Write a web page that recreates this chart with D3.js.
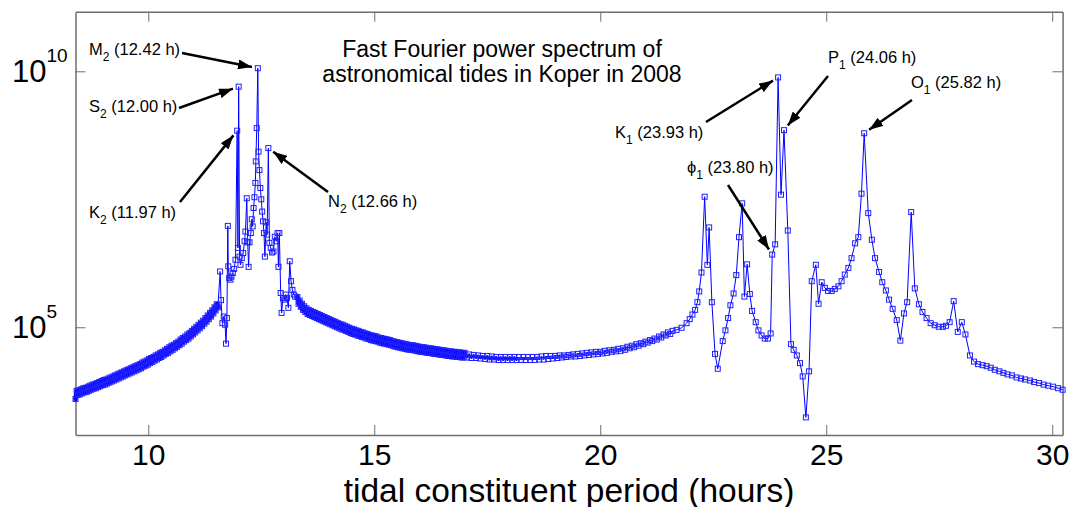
<!DOCTYPE html>
<html>
	<head>
		<meta charset="utf-8">
		<title>Fast Fourier power spectrum - Koper 2008</title>

		<!--libs-->
		<script src="https://d3js.org/d3.v7.min.js"></script>

		<!--css-->
		<style>
			body {
				margin: 0;
				background: #fff;
			}
			svg {
				display: block;
				font-family: "Liberation Sans", Arial, Helvetica, sans-serif;
			}
			.axis path,
			.axis line {
				stroke: #6e6e6e;
			}
			.axis path {
				stroke-width: 1.5;
			}
			.axis text {
				font-size: 30px;
				fill: #000;
			}
			.trace {
				fill: none;
				stroke: #0000ff;
				stroke-width: 1;
			}
			.trace.dense {
				stroke-width: 4.5;
				stroke-linejoin: round;
				stroke-linecap: round;
			}
			.trace.semi-dense {
				stroke-width: 2;
				stroke-linejoin: round;
				stroke-linecap: round;
			}
			.marker {
				fill: none;
				stroke: #1f1fff;
				stroke-width: 1;
			}
			.note {
				font-size: 16.5px;
			}
			.arrow {
				stroke: #000;
				stroke-width: 2.5;
			}
		</style>
	</head>
	<body>
		<div class="spectrum"></div>

		<script>
			// periods in hours, power as log10 of the FFT power

			// long sidelobe before the semidiurnal group
			var lowBandPeriod = [
				8.390, 8.415, 8.440, 8.465, 8.490, 8.515, 8.540, 8.565, 8.590, 8.615,
				8.640, 8.665, 8.690, 8.715, 8.740, 8.765, 8.790, 8.815, 8.840, 8.865,
				8.890, 8.915, 8.940, 8.965, 8.990, 9.015, 9.040, 9.065, 9.090, 9.115,
				9.140, 9.165, 9.190, 9.215, 9.240, 9.265, 9.290, 9.315, 9.340, 9.365,
				9.390, 9.415, 9.440, 9.465, 9.490, 9.515, 9.540, 9.565, 9.590, 9.615,
				9.640, 9.665, 9.690, 9.715, 9.740, 9.765, 9.790, 9.815, 9.840, 9.865,
				9.890, 9.915, 9.940, 9.965, 9.990, 10.015, 10.040, 10.065, 10.090, 10.115,
				10.140, 10.165, 10.190, 10.215, 10.240, 10.265, 10.290, 10.315, 10.340, 10.365,
				10.390, 10.415, 10.440, 10.465, 10.490, 10.515, 10.540, 10.565, 10.590, 10.615,
				10.640, 10.665, 10.690, 10.715, 10.740, 10.765, 10.790, 10.815, 10.840, 10.865,
				10.890, 10.915, 10.940, 10.965, 10.990, 11.015, 11.040, 11.065, 11.090, 11.115,
				11.140, 11.165, 11.190, 11.215, 11.240, 11.265, 11.290, 11.315, 11.340, 11.365,
				11.390, 11.415, 11.440, 11.465, 11.490, 11.515, 11.540
			];
			var lowBandLog = [
				3.60, 3.76, 3.68, 3.77, 3.69, 3.79, 3.71, 3.81, 3.73, 3.82,
				3.74, 3.84, 3.76, 3.86, 3.78, 3.88, 3.80, 3.89, 3.81, 3.91,
				3.83, 3.93, 3.85, 3.95, 3.87, 3.97, 3.88, 3.98, 3.90, 4.00,
				3.92, 4.02, 3.94, 4.04, 3.96, 4.06, 3.98, 4.08, 4.00, 4.10,
				4.02, 4.12, 4.04, 4.14, 4.06, 4.16, 4.08, 4.18, 4.10, 4.20,
				4.12, 4.22, 4.14, 4.24, 4.16, 4.26, 4.18, 4.28, 4.20, 4.31,
				4.23, 4.33, 4.25, 4.35, 4.27, 4.38, 4.30, 4.40, 4.32, 4.42,
				4.35, 4.45, 4.37, 4.47, 4.40, 4.50, 4.42, 4.52, 4.45, 4.55,
				4.48, 4.58, 4.50, 4.61, 4.53, 4.64, 4.56, 4.66, 4.59, 4.69,
				4.62, 4.72, 4.65, 4.76, 4.68, 4.79, 4.72, 4.82, 4.75, 4.86,
				4.78, 4.89, 4.82, 4.93, 4.86, 4.97, 4.90, 5.01, 4.94, 5.05,
				4.98, 5.09, 5.02, 5.13, 5.07, 5.18, 5.11, 5.23, 5.16, 5.28,
				5.21, 5.33, 5.27, 5.39, 5.33, 5.45, 5.39
			];

			// semidiurnal group (K2, S2, M2, N2)
			var semiPeriod = [
				11.59, 11.61, 11.64, 11.67, 11.70, 11.72, 11.74, 11.76, 11.77, 11.79,
				11.82, 11.84, 11.87, 11.90, 11.93, 11.967, 11.984, 12.00, 12.02, 12.04,
				12.07, 12.10, 12.13, 12.15, 12.18, 12.20, 12.22, 12.24, 12.27, 12.29,
				12.31, 12.33, 12.35, 12.37, 12.38, 12.40, 12.424, 12.44, 12.46, 12.48,
				12.50, 12.52, 12.54, 12.56, 12.58, 12.61, 12.63, 12.657, 12.68, 12.71,
				12.74, 12.77, 12.80, 12.83, 12.86, 12.88, 12.90, 12.93, 12.95, 12.98,
				13.01, 13.04, 13.07, 13.10, 13.13, 13.16, 13.19, 13.22, 13.25
			];
			var semiLog = [
				6.09, 5.53, 5.08, 5.21, 5.05, 4.68, 5.18, 6.98, 6.19, 5.96,
				5.93, 5.99, 6.06, 6.14, 6.32, 8.84, 6.55, 9.70, 6.38, 6.22,
				6.35, 6.45, 6.68, 6.87, 7.52, 6.66, 6.18, 6.66, 6.84, 7.11,
				6.97, 7.33, 7.54, 7.82, 8.24, 8.89, 10.06, 8.43, 8.07, 7.72,
				7.50, 7.26, 7.07, 6.84, 6.38, 7.05, 6.81, 8.50, 6.65, 6.55,
				6.46, 6.48, 6.77, 6.68, 6.84, 6.18, 6.84, 5.67, 5.28, 5.57,
				5.54, 5.64, 5.57, 5.38, 6.29, 5.90, 5.73, 5.64, 5.60
			];

			// dense trough after the semidiurnal group
			var troughPeriod = [
				13.300, 13.325, 13.350, 13.375, 13.400, 13.425, 13.450, 13.475, 13.500, 13.525,
				13.550, 13.575, 13.600, 13.625, 13.650, 13.675, 13.700, 13.725, 13.750, 13.775,
				13.800, 13.825, 13.850, 13.875, 13.900, 13.925, 13.950, 13.975, 14.000, 14.025,
				14.050, 14.075, 14.100, 14.125, 14.150, 14.175, 14.200, 14.225, 14.250, 14.275,
				14.300, 14.325, 14.350, 14.375, 14.400, 14.425, 14.450, 14.475, 14.500, 14.525,
				14.550, 14.575, 14.600, 14.625, 14.650, 14.675, 14.700, 14.725, 14.750, 14.775,
				14.800, 14.825, 14.850, 14.875, 14.900, 14.925, 14.950, 14.975, 15.000, 15.025,
				15.050, 15.075, 15.100, 15.125, 15.150, 15.175, 15.200, 15.225, 15.250, 15.275,
				15.300, 15.325, 15.350, 15.375, 15.400, 15.425, 15.450, 15.475, 15.500, 15.525,
				15.550, 15.575, 15.600, 15.625, 15.650, 15.675, 15.700, 15.725, 15.750, 15.775,
				15.800, 15.825, 15.850, 15.875, 15.900, 15.925, 15.950, 15.975, 16.000, 16.025,
				16.050, 16.075, 16.100, 16.125, 16.150, 16.175, 16.200, 16.225, 16.250, 16.275,
				16.300, 16.325, 16.350, 16.375, 16.400, 16.425, 16.450, 16.475, 16.500, 16.525,
				16.550, 16.575, 16.600, 16.625, 16.650, 16.675, 16.700, 16.725, 16.750, 16.775,
				16.800, 16.825, 16.850, 16.875, 16.900, 16.925, 16.950, 16.975, 17.000
			];
			var troughLog = [
				5.59, 5.46, 5.52, 5.40, 5.46, 5.34, 5.41, 5.30, 5.37, 5.26,
				5.34, 5.24, 5.32, 5.22, 5.30, 5.20, 5.28, 5.18, 5.26, 5.16,
				5.24, 5.14, 5.22, 5.12, 5.20, 5.10, 5.18, 5.08, 5.16, 5.06,
				5.14, 5.04, 5.12, 5.02, 5.10, 5.00, 5.08, 4.98, 5.06, 4.96,
				5.05, 4.95, 5.03, 4.93, 5.01, 4.91, 4.99, 4.89, 4.97, 4.87,
				4.96, 4.86, 4.94, 4.84, 4.93, 4.83, 4.91, 4.81, 4.90, 4.80,
				4.88, 4.78, 4.87, 4.77, 4.85, 4.75, 4.84, 4.74, 4.83, 4.73,
				4.82, 4.72, 4.80, 4.70, 4.79, 4.69, 4.78, 4.68, 4.77, 4.67,
				4.76, 4.66, 4.75, 4.65, 4.73, 4.63, 4.72, 4.62, 4.71, 4.61,
				4.70, 4.60, 4.69, 4.59, 4.68, 4.58, 4.67, 4.57, 4.66, 4.56,
				4.65, 4.56, 4.65, 4.55, 4.64, 4.54, 4.63, 4.53, 4.62, 4.52,
				4.61, 4.52, 4.61, 4.51, 4.60, 4.50, 4.59, 4.50, 4.59, 4.49,
				4.58, 4.48, 4.57, 4.48, 4.57, 4.47, 4.56, 4.46, 4.55, 4.46,
				4.55, 4.45, 4.54, 4.44, 4.53, 4.44, 4.53, 4.43, 4.52, 4.43,
				4.52, 4.42, 4.51, 4.42, 4.51, 4.41, 4.50, 4.41, 4.50
			];

			// flat bottom rising towards the diurnal group
			var flatPeriod = [
				17.05, 17.10, 17.15, 17.20, 17.25,
				17.30, 17.35, 17.40, 17.45, 17.50, 17.55, 17.60, 17.65, 17.70, 17.75,
				17.80, 17.85, 17.90, 17.95, 18.00, 18.05, 18.10, 18.15, 18.20, 18.25,
				18.30, 18.35, 18.40, 18.45, 18.50, 18.55, 18.60, 18.65, 18.70, 18.75,
				18.80, 18.85, 18.90, 18.95, 19.00, 19.05, 19.10, 19.15, 19.20, 19.25,
				19.30, 19.35, 19.40, 19.45, 19.50, 19.55, 19.60, 19.65, 19.70, 19.75,
				19.80, 19.85, 19.90, 19.95, 20.00, 20.05, 20.10, 20.15, 20.20, 20.25,
				20.30, 20.35, 20.40, 20.45, 20.50, 20.55, 20.60, 20.65, 20.70, 20.75,
				20.80, 20.85, 20.90, 20.95, 21.00, 21.05, 21.10, 21.15, 21.20, 21.25,
				21.30, 21.35, 21.40, 21.45, 21.50, 21.55, 21.60
			];
			var flatLog = [
				4.41, 4.47, 4.40, 4.46, 4.40,
				4.45, 4.39, 4.44, 4.38, 4.44, 4.37, 4.43, 4.37, 4.42, 4.36,
				4.42, 4.36, 4.42, 4.36, 4.42, 4.36, 4.42, 4.36, 4.42, 4.36,
				4.42, 4.36, 4.42, 4.36, 4.42, 4.36, 4.42, 4.37, 4.43, 4.37,
				4.44, 4.38, 4.44, 4.39, 4.44, 4.40, 4.45, 4.41, 4.45, 4.42,
				4.46, 4.43, 4.47, 4.43, 4.48, 4.44, 4.49, 4.45, 4.50, 4.46,
				4.51, 4.47, 4.52, 4.48, 4.52, 4.49, 4.54, 4.50, 4.55, 4.52,
				4.56, 4.53, 4.58, 4.54, 4.59, 4.56, 4.62, 4.59, 4.64, 4.61,
				4.67, 4.64, 4.69, 4.67, 4.72, 4.70, 4.75, 4.73, 4.78, 4.76,
				4.82, 4.80, 4.86, 4.84, 4.90, 4.87, 4.93
			];

			// diurnal group (phi1, K1, P1, O1) and the tail
			var diurnalPeriod = [
				21.69, 21.80, 21.91, 21.98, 22.04, 22.10, 22.15, 22.19, 22.24, 22.31,
				22.37, 22.41, 22.47, 22.54, 22.60, 22.71, 22.77, 22.83, 22.88, 22.95,
				23.01, 23.07, 23.14, 23.19, 23.25, 23.31, 23.36, 23.44, 23.50, 23.57,
				23.64, 23.71, 23.77, 23.805, 23.87, 23.935, 24.00, 24.066, 24.15, 24.22,
				24.28, 24.35, 24.42, 24.48, 24.55, 24.62, 24.68, 24.77, 24.83, 24.90,
				24.97, 25.04, 25.12, 25.19, 25.27, 25.34, 25.41, 25.49, 25.56, 25.64,
				25.71, 25.78, 25.84, 25.93, 26.01, 26.08, 26.17, 26.24, 26.32, 26.39,
				26.47, 26.56, 26.64, 26.72, 26.79, 26.88, 26.96, 27.05, 27.13, 27.22,
				27.31, 27.40, 27.49, 27.58, 27.65, 27.73, 27.82, 27.91, 28.00, 28.08,
				28.18, 28.27, 28.36, 28.46, 28.55, 28.64, 28.73, 28.83, 28.92, 29.01,
				29.11, 29.21, 29.31, 29.40, 29.51, 29.60, 29.71, 29.81, 29.91, 30.02,
				30.13, 30.23
			];
			var diurnalLog = [
				4.95, 4.99, 5.08, 5.16, 5.25, 5.34, 5.49, 5.70, 6.07, 7.55,
				6.22, 6.95, 5.49, 4.48, 4.19, 4.73, 4.94, 5.18, 5.43, 5.66,
				6.02, 6.76, 7.42, 5.60, 6.23, 5.65, 5.32, 5.10, 4.94, 4.84,
				4.78, 4.78, 4.88, 6.42, 6.62, 9.88, 7.59, 8.85, 6.89, 4.67,
				4.56, 4.45, 4.30, 4.04, 3.24, 4.14, 5.90, 6.22, 5.46, 5.88,
				5.77, 5.71, 5.71, 5.75, 5.80, 5.90, 6.03, 6.16, 6.35, 6.64,
				6.76, 7.61, 8.79, 7.23, 6.71, 6.35, 6.08, 5.88, 5.72, 5.54,
				5.36, 5.14, 4.74, 5.27, 5.49, 7.25, 5.76, 5.45, 5.30, 5.18,
				5.08, 5.04, 5.01, 5.01, 5.03, 5.10, 5.51, 4.91, 5.10, 4.86,
				4.45, 4.33, 4.28, 4.26, 4.24, 4.21, 4.17, 4.14, 4.11, 4.08,
				4.06, 4.02, 4.00, 3.98, 3.96, 3.93, 3.91, 3.88, 3.86, 3.84,
				3.81, 3.78
			];

			var xTicks = [10, 15, 20, 25, 30];
			var yTicks = [1e5, 1e10];
			var titleLines = ["Fast Fourier power spectrum of", "astronomical tides in Koper in 2008"];
			var xLabel = "tidal constituent period (hours)";

			// constituent labels: name, subscript, text, period of the marked peak
			var peakNames = ["M", "S", "K", "N", "K", "P", "O", "\u03d5"];
			var peakSubs = ["2", "2", "2", "2", "1", "1", "1", "1"];
			var peakTexts = [" (12.42 h)", " (12.00 h)", " (11.97 h)", " (12.66 h)", " (23.93 h)", " (24.06 h)", " (25.82 h)", " (23.80 h)"];
			var peakPeriods = [12.424, 12.00, 11.967, 12.657, 23.935, 24.066, 25.84, 23.805];

			var width = 1074,
				height = 507;
			var plot = {left: 75.5, right: 1062.6, top: 11.7, bottom: 435};

			var svg = d3.select(".spectrum")
				.append("svg")
				.attr("width", width)
				.attr("height", height);

			var x = d3.scaleLinear()
				.domain([8.39, 30.23])
				.range([plot.left, plot.right]);

			var y = d3.scaleLog()
				.domain([Math.pow(10, 2.896), Math.pow(10, 11.164)])
				.range([plot.bottom, plot.top]);

			function toPoints(periods, logs) {
				return periods.map(function(p, i) {
					return {period: p, power: Math.pow(10, logs[i])};
				});
			}

			var lowBand = toPoints(lowBandPeriod, lowBandLog),
				trough = toPoints(troughPeriod, troughLog),
				flat = toPoints(flatPeriod, flatLog);

			var data = [].concat(
				lowBand,
				toPoints(semiPeriod, semiLog),
				trough,
				flat,
				toPoints(diurnalPeriod, diurnalLog)
			);

			//axes, box with inward ticks
			svg.append("g")
				.attr("class", "axis")
				.attr("transform", "translate(0," + plot.bottom + ")")
				.call(d3.axisBottom(x).tickValues(xTicks).tickSize(-10).tickSizeOuter(0))
				.selectAll("text")
				.attr("y", 29.5)
				.attr("dy", 0);

			svg.append("g")
				.attr("class", "axis")
				.attr("transform", "translate(0," + plot.top + ")")
				.call(d3.axisTop(x).tickValues(xTicks).tickSize(-10).tickSizeOuter(0).tickFormat(""));

			svg.append("g")
				.attr("class", "axis")
				.attr("transform", "translate(" + plot.left + ",0)")
				.call(d3.axisLeft(y).tickValues(yTicks).tickSize(-10).tickSizeOuter(0).tickFormat(""));

			svg.append("g")
				.attr("class", "axis")
				.attr("transform", "translate(" + plot.right + ",0)")
				.call(d3.axisRight(y).tickValues(yTicks).tickSize(-10).tickSizeOuter(0).tickFormat(""));

			// y tick labels as 10 with a superscript exponent
			var yLab = svg.selectAll(".ylab")
				.data(yTicks)
				.enter()
				.append("text")
				.attr("class", "ylab")
				.attr("x", 12)
				.attr("y", function(d) { return y(d) + 11; });
			yLab.append("tspan")
				.attr("font-size", 31)
				.text("10");
			yLab.append("tspan")
				.attr("font-size", 19)
				.attr("dy", -20)
				.text(function(d) { return Math.round(Math.log10(d)); });

			svg.append("text")
				.attr("x", (plot.left + plot.right) / 2)
				.attr("y", 501.5)
				.attr("text-anchor", "middle")
				.attr("font-size", 33.5)
				.text(xLabel);

			svg.selectAll(".title")
				.data(titleLines)
				.enter()
				.append("text")
				.attr("class", "title")
				.attr("x", 502)
				.attr("y", function(d, i) { return 57 + i * 25; })
				.attr("text-anchor", "middle")
				.attr("font-size", 23)
				.text(function(d) { return d; });

			//spectrum
			var line = d3.line()
				.x(function(d) { return x(d.period); })
				.y(function(d) { return y(d.power); });

			svg.append("path")
				.attr("class", "trace")
				.attr("d", line(data));

			// where the bins crowd together the trace reads as a solid ribbon
			[lowBand, trough].forEach(function(seg) {
				svg.append("path")
					.attr("class", "trace dense")
					.attr("d", line(seg));
			});
			svg.append("path")
				.attr("class", "trace semi-dense")
				.attr("d", line([trough[trough.length - 1]].concat(flat.filter(function(d) { return d.period < 18.2; }))));

			svg.append("g")
				.selectAll("rect")
				.data(data)
				.enter()
				.append("rect")
				.attr("class", "marker")
				.attr("x", function(d) { return x(d.period) - 2.5; })
				.attr("y", function(d) { return y(d.power) - 2.5; })
				.attr("width", 5)
				.attr("height", 5);

			//annotations
			svg.append("defs")
				.append("marker")
				.attr("id", "head")
				.attr("markerUnits", "userSpaceOnUse")
				.attr("viewBox", "0 0 14 10")
				.attr("refX", 14)
				.attr("refY", 5)
				.attr("markerWidth", 14)
				.attr("markerHeight", 10)
				.attr("orient", "auto")
				.append("path")
				.attr("d", "M0,0L14,5L0,10Z")
				.attr("fill", "#000");

			// label anchor (text start, baseline) and arrow tail, in pixels
			var noteLayout = [
				{lx: 89, ly: 55, ax: 182, ay: 53},
				{lx: 89, ly: 112, ax: 179, ay: 108},
				{lx: 89, ly: 218, ax: 180, ay: 202},
				{lx: 328, ly: 207, ax: 328, ay: 192},
				{lx: 615, ly: 138, ax: 706, ay: 122},
				{lx: 828, ly: 63, ax: 828, ay: 76},
				{lx: 911, ly: 88, ax: 912, ay: 100},
				{lx: 687, ly: 173, ax: 728, ay: 185}
			];

			function nearest(period) {
				var best = data[0];
				data.forEach(function(d) {
					if (Math.abs(d.period - period) < Math.abs(best.period - period)) best = d;
				});
				return best;
			}

			peakNames.forEach(function(name, i) {
				var lay = noteLayout[i];
				var pt = nearest(peakPeriods[i]);
				var px = x(pt.period),
					py = y(pt.power);
				var dx = px - lay.ax,
					dy = py - lay.ay,
					len = Math.sqrt(dx * dx + dy * dy),
					gap = 6;

				svg.append("line")
					.attr("class", "arrow")
					.attr("x1", lay.ax)
					.attr("y1", lay.ay)
					.attr("x2", px - dx / len * gap)
					.attr("y2", py - dy / len * gap)
					.attr("marker-end", "url(#head)");

				var t = svg.append("text")
					.attr("class", "note")
					.attr("x", lay.lx)
					.attr("y", lay.ly);
				t.append("tspan").text(name);
				t.append("tspan")
					.attr("font-size", 12)
					.attr("dy", 6)
					.text(peakSubs[i]);
				t.append("tspan")
					.attr("dy", -6)
					.text(peakTexts[i]);
			});
		</script>
	</body>
</html>
